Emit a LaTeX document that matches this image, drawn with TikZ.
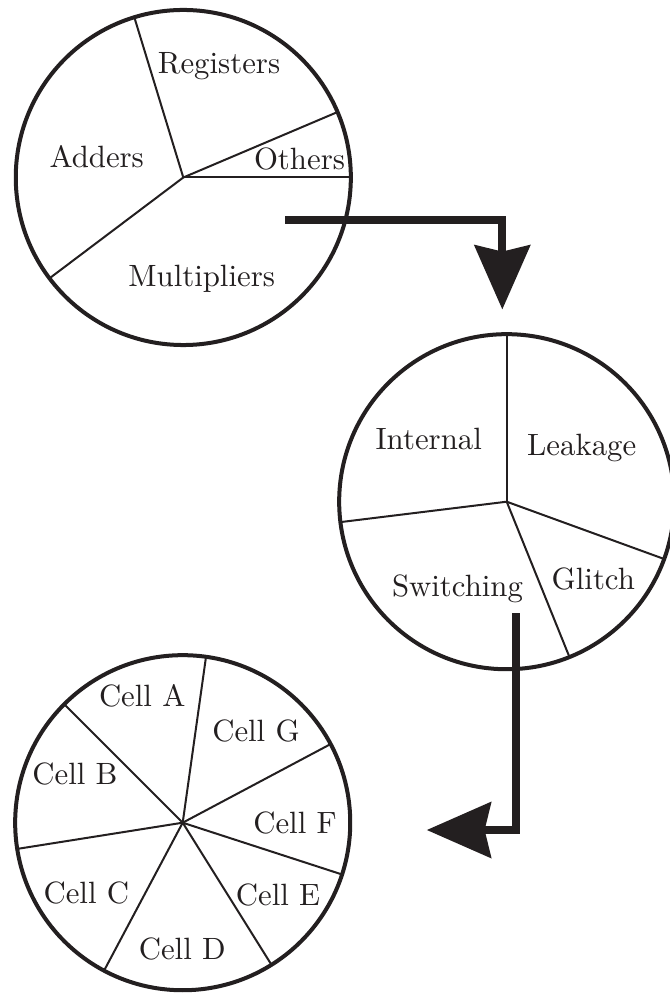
\documentclass[tikz,border=0pt]{standalone}
\usetikzlibrary{arrows.meta}
\definecolor{ink}{RGB}{35,31,32}
\begin{document}
\begin{tikzpicture}[x=0.3247pt, y=-0.3247pt,
  pie/.style={circle, draw=ink, line width=1.3pt, minimum size=108.8pt,
    inner sep=0pt, outer sep=0pt},
  spoke/.style={draw=ink, line width=0.65pt},
  lbl/.style={anchor=base, font=\fontsize{10}{12}\selectfont, text=ink, inner sep=0pt},
  flow/.style={draw=ink, line width=2.7pt, line join=miter,
    -{Stealth[length=20.8pt, width=17.9pt, inset=2pt]}}
]
\useasboundingbox (0,0) rectangle (669,994);

% ---- design breakdown by block type
\node[pie] (c1) at (183.3,177.5) {};
\draw[spoke] (c1.center) -- (c1.0);
\draw[spoke] (c1.center) -- (c1.23.2);
\draw[spoke] (c1.center) -- (c1.107.3);
\draw[spoke] (c1.center) -- (c1.217.1);
\node[lbl] (regs) at (219,74) {Registers};
\node[lbl] (oth)  at (299.5,170) {Others};
\node[lbl] (add)  at (96.7,167.7) {Adders};
\node[lbl] (mul)  at (201.7,286.7) {Multipliers};

% ---- power components
\node[pie] (c2) at (506.7,501.7) {};
\draw[spoke] (c2.center) -- (c2.90);
\draw[spoke] (c2.center) -- (c2.340.4);
\draw[spoke] (c2.center) -- (c2.292.9);
\draw[spoke] (c2.center) -- (c2.187.3);
\node[lbl] (int) at (428.7,449.3) {Internal};
\node[lbl] (leak) at (581.7,455) {Leakage};
\node[lbl] (sw) at (457.5,596.7) {Switching};
\node[lbl] (gl) at (593.3,589.3) {Glitch};

% ---- per-cell contributions
\node[pie] (c3) at (182.7,822.7) {};
\foreach \a in {82.2,28.4,-18.5,-58.1,242.7,189.2,135.2}
  \draw[spoke] (c3.center) -- (c3.\a);
\node[lbl] (ca) at (142.2,706.7) {Cell A};
\node[lbl] (cg) at (256,741.7) {Cell G};
\node[lbl] (cb) at (75,784) {Cell B};
\node[lbl] (cf) at (295,833.3) {Cell F};
\node[lbl] (cc) at (86.3,903.3) {Cell C};
\node[lbl] (ce) at (278,905) {Cell E};
\node[lbl] (cd) at (182.2,959.3) {Cell D};

% ---- drill-down arrows
\coordinate (s1) at (285,220);
\coordinate (t1) at (502.3,309.5);
\draw[flow] (s1) -| (t1);
\coordinate (s2) at (516.3,613);
\coordinate (t2) at (426.7,830);
\draw[flow] (s2) |- (t2);
\end{tikzpicture}
\end{document}
